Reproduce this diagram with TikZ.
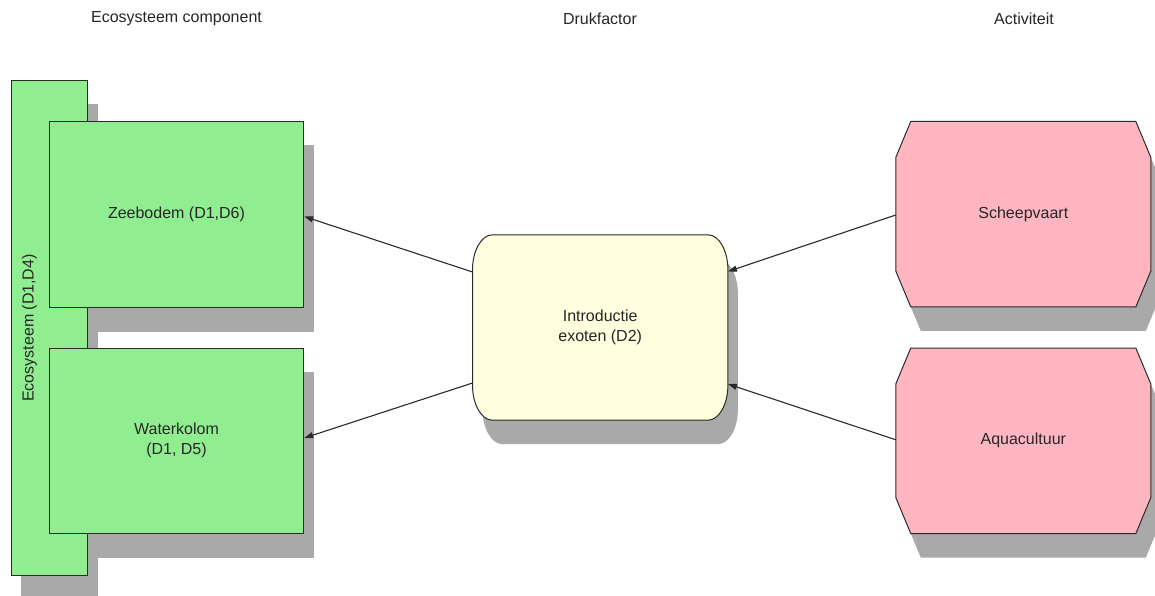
\documentclass[tikz,border=0pt]{standalone}
\usepackage{fontspec}
\setmainfont{Liberation Sans}
\usetikzlibrary{arrows.meta,calc,backgrounds}

\definecolor{boxgreen}{HTML}{90EE90}
\definecolor{boxpink}{HTML}{FFB6C1}
\definecolor{boxyellow}{HTML}{FFFFE0}
\definecolor{shadegray}{HTML}{A9A9A9}
\definecolor{edgegray}{HTML}{2A2A2A}

% octagon with cut corners: node, x offset, y offset
\newcommand{\actoutline}[3]{%
  ($(#1.north west)+(#2+15,#3)$) -- ($(#1.north east)+(#2-15,#3)$)
  -- ($(#1.north east)+(#2,#3+36)$) -- ($(#1.south east)+(#2,#3-36)$)
  -- ($(#1.south east)+(#2-15,#3)$) -- ($(#1.south west)+(#2+15,#3)$)
  -- ($(#1.south west)+(#2,#3-36)$) -- ($(#1.north west)+(#2,#3+36)$) -- cycle}

% box with elliptic corners: node, x offset, y offset
\newcommand{\pressoutline}[3]{%
  ($(#1.north west)+(#2+20,#3)$) -- ($(#1.north east)+(#2-20,#3)$)
  .. controls ($(#1.north east)+(#2-8.95,#3)$) and ($(#1.north east)+(#2,#3+15.67)$) .. ($(#1.north east)+(#2,#3+35)$)
  -- ($(#1.south east)+(#2,#3-35)$)
  .. controls ($(#1.south east)+(#2,#3-15.67)$) and ($(#1.south east)+(#2-8.95,#3)$) .. ($(#1.south east)+(#2-20,#3)$)
  -- ($(#1.south west)+(#2+20,#3)$)
  .. controls ($(#1.south west)+(#2+8.95,#3)$) and ($(#1.south west)+(#2,#3-15.67)$) .. ($(#1.south west)+(#2,#3-35)$)
  -- ($(#1.north west)+(#2,#3+35)$)
  .. controls ($(#1.north west)+(#2,#3+15.67)$) and ($(#1.north west)+(#2+8.95,#3)$) .. ($(#1.north west)+(#2+20,#3)$)
  -- cycle}

\begin{document}
\begin{tikzpicture}[x=1pt,y=-1pt,
  font=\fontsize{16}{20}\selectfont,
  every node/.style={text=black!85},
  compbox/.style={rectangle, fill=boxgreen, draw=edgegray, line width=1pt,
    inner sep=0pt, align=center},
  shapebox/.style={rectangle, inner sep=0pt, align=center},
  heading/.style={inner sep=0pt},
  link/.style={draw=edgegray, line width=1.1pt,
    -{Triangle[length=9pt,width=6pt]}},
  shadow/.style={fill=shadegray},
  outline/.style={draw=edgegray, line width=1pt}]

\useasboundingbox (0,0) rectangle (1155,596);

% column headings
\node[heading] (h1) at (176.5,18.5) {Ecosysteem component};
\node[heading] (h2) at (600,18.5) {Drukfactor};
\node[heading] (h3) at (1024,18.5) {Activiteit};

% ecosystem components
\node[compbox, minimum width=76.7pt, minimum height=494pt] (eco) at (49.35,328) {};
\node[rotate=90] (ecolabel) at ($(eco.west)+(19,0)$) {Ecosysteem (D1,D4)};
\node[compbox, minimum width=254.4pt, minimum height=185.6pt] (zee) at (176.5,214.5) {Zeebodem (D1,D6)};
\node[compbox, minimum width=254.4pt, minimum height=185pt] (wat) at (176.5,440.8) {Waterkolom\\(D1, D5)};

% pressure
\node[shapebox, minimum width=255pt, minimum height=185pt] (intro) at (600.2,327.5) {Introductie\\exoten (D2)};

% activities
\node[shapebox, minimum width=254.7pt, minimum height=185pt] (schip) at (1023.3,214.2) {Scheepvaart};
\node[shapebox, minimum width=254.7pt, minimum height=185pt] (aqua) at (1023.3,440.8) {Aquacultuur};

\begin{scope}[on background layer]
  % drop shadows
  \fill[shadow] ($(eco.north west)+(10,24)$) rectangle ($(eco.south east)+(10,24)$);
  \fill[shadow] ($(zee.north west)+(10,24)$) rectangle ($(zee.south east)+(10,24)$);
  \fill[shadow] ($(wat.north west)+(10,24)$) rectangle ($(wat.south east)+(10,24)$);
  \fill[shadow] \pressoutline{intro}{10}{24};
  \fill[shadow] \actoutline{schip}{10}{24};
  \fill[shadow] \actoutline{aqua}{10}{24};
  % shaped boxes
  \filldraw[outline, fill=boxyellow] \pressoutline{intro}{0}{0};
  \filldraw[outline, fill=boxpink] \actoutline{schip}{0}{0};
  \filldraw[outline, fill=boxpink] \actoutline{aqua}{0}{0};
\end{scope}

% connectors
\draw[link] ($(intro.west)+(0,-55.5)$) -- ($(zee.east)+(0,2)$);
\draw[link] ($(intro.west)+(0,55.5)$) -- ($(wat.east)+(0,-2.8)$);
\draw[link] ($(schip.west)+(0,0.8)$) -- ($(intro.east)+(0,-56)$);
\draw[link] ($(aqua.west)+(0,-1)$) -- ($(intro.east)+(0,56.5)$);
\end{tikzpicture}
\end{document}
